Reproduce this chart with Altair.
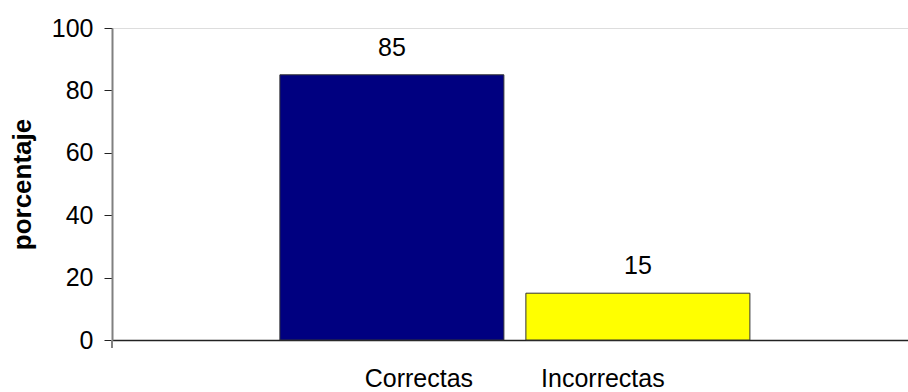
import altair as alt
import pandas as pd

categories = ["Correctas", "Incorrectas"]
values = [85, 15]
colors = ["#000080", "#FFFF00"]
y_ticks = [0, 20, 40, 60, 80, 100]

df = pd.DataFrame({"categoria": categories, "porcentaje": values})

FONT = "Liberation Sans, Arial, sans-serif"
W, H = 796, 312

x_enc = alt.X(
    "categoria:N",
    sort=categories,
    scale=alt.Scale(paddingInner=0.0894, paddingOuter=0.6626, align=0.515),
    axis=alt.Axis(
        title=None,
        labelAngle=0,
        labelFont=FONT,
        labelFontSize=25,
        labelColor="#000000",
        labelPadding=26,
        labelOffset={"condition": {"test": "datum.value === 'Correctas'", "value": 27}, "value": -35},
        ticks=False,
        domainColor="#222222",
        domainWidth=1.5,
        grid=False,
    ),
)

y_enc = alt.Y(
    "porcentaje:Q",
    scale=alt.Scale(domain=[0, 100], nice=False),
    axis=alt.Axis(
        title="porcentaje",
        values=y_ticks,
        titleFont=FONT,
        titleFontWeight="bold",
        titleFontSize=26,
        titleColor="#000000",
        titleX=-89.5,
        titleY=H / 2,
        titleBaseline="middle",
        titleAngle=-90,
        labelFont=FONT,
        labelFontSize=25,
        labelColor="#000000",
        labelPadding=11,
        tickSize=8,
        tickColor="#222222",
        domainColor="#808080",
        domainWidth=2,
        grid=False,
    ),
)

bars = alt.Chart(df).mark_bar(stroke="#333333", strokeWidth=1).encode(
    x=x_enc,
    y=y_enc,
    color=alt.Color("categoria:N", scale=alt.Scale(domain=categories, range=colors), legend=None),
)

labels = alt.Chart(df).mark_text(
    baseline="alphabetic", dy=-19, font=FONT, fontSize=25, color="#000000"
).encode(
    x=alt.X("categoria:N", sort=categories),
    y=alt.Y("porcentaje:Q"),
    text=alt.Text("porcentaje:Q"),
)

stub = alt.Chart(df).mark_rule(color="#808080", strokeWidth=2).encode(
    x=alt.value(0), y=alt.value(H), y2=alt.value(H + 8)
)

chart = (
    alt.layer(bars, labels, stub)
    .properties(
        width=W,
        height=H,
        autosize=alt.AutoSizeParams(type="none"),
        padding={"left": 112, "top": 28, "right": 0, "bottom": 52},
    )
    .configure_view(stroke=None)
    .configure(background="#ffffff")
)

chart.save("out.html", embed_options={"renderer": "svg", "actions": False})
